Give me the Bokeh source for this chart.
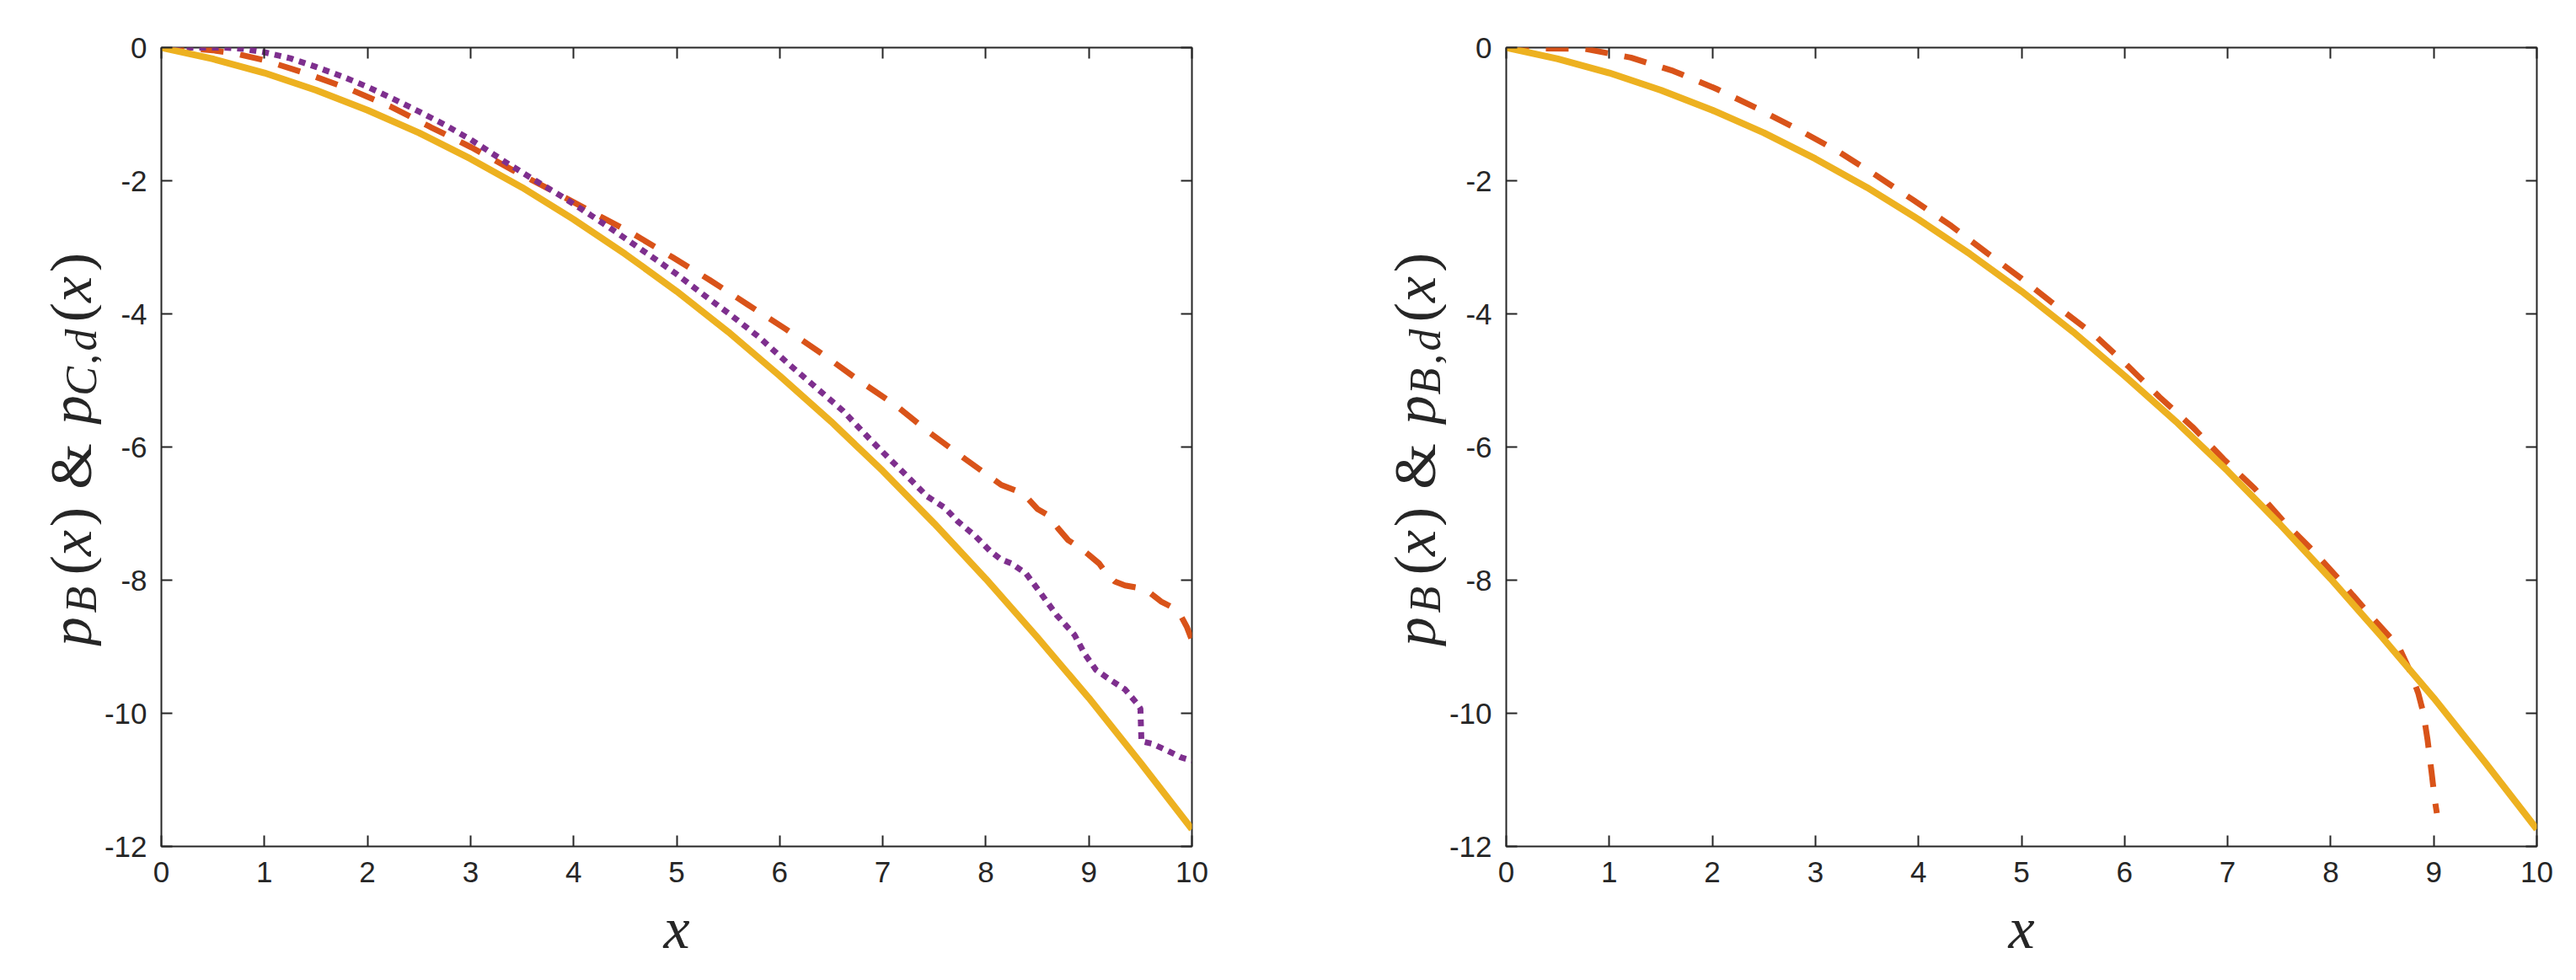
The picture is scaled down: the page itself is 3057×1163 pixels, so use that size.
import math
from bokeh.plotting import figure
from bokeh.models import Range1d, LinearAxis, FixedTicker, Label
from bokeh.layouts import row
from bokeh.embed import file_html
from bokeh.resources import INLINE

# ---------------- data ----------------
x_ticks = [0, 1, 2, 3, 4, 5, 6, 7, 8, 9, 10]
y_ticks = [-12, -10, -8, -6, -4, -2, 0]

# p_B(x): solid yellow (same in both panels)
pB_x = [0, 0.5, 1, 1.5, 2, 2.5, 3, 3.5, 4, 4.5, 5, 5.5, 6, 6.5, 7, 7.5, 8, 8.5, 9, 9.5, 10]
pB_y = [0, -0.17, -0.38, -0.64, -0.94, -1.28, -1.67, -2.10, -2.58, -3.10, -3.66, -4.27,
        -4.93, -5.62, -6.36, -7.15, -7.98, -8.86, -9.77, -10.74, -11.74]

# left panel, dashed red
pCd_red_x = [0, 0.25, 0.5, 0.75, 1.0, 1.41, 1.82, 2.23, 2.62, 3.01, 3.42, 3.78, 4.19, 4.57,
             4.96, 5.32, 5.69, 6.06, 6.42, 6.77, 7.13, 7.46, 7.80, 8.15, 8.30, 8.40, 8.50,
             8.60, 8.70, 8.80, 8.90, 9.00, 9.10, 9.17, 9.25, 9.35, 9.50, 9.60, 9.70, 9.80,
             9.88, 9.95, 10.0]
pCd_red_y = [0, -0.01, -0.04, -0.10, -0.19, -0.39, -0.62, -0.89, -1.20, -1.50, -1.85, -2.14,
             -2.48, -2.79, -3.15, -3.49, -3.86, -4.23, -4.61, -5.00, -5.38, -5.79, -6.18,
             -6.57, -6.66, -6.76, -6.93, -7.02, -7.22, -7.40, -7.50, -7.62, -7.75, -7.90,
             -8.02, -8.08, -8.12, -8.20, -8.32, -8.40, -8.50, -8.70, -8.90]

# left panel, dotted purple
pCd_pur_x = [0, 0.3, 0.6, 0.8, 1.0, 1.25, 1.5, 1.75, 2.0, 2.25, 2.5, 2.75, 3.0, 3.34, 3.61,
             3.89, 4.16, 4.43, 4.71, 4.98, 5.25, 5.52, 5.80, 6.07, 6.34, 6.61, 6.88, 7.08,
             7.27, 7.43, 7.60, 7.73, 7.90, 8.04, 8.14, 8.25, 8.39, 8.53, 8.69, 8.86, 8.96,
             9.07, 9.21, 9.35, 9.46, 9.50, 9.51, 9.62, 9.76, 9.89, 10.0]
pCd_pur_y = [0, 0, 0, -0.02, -0.07, -0.16, -0.29, -0.43, -0.59, -0.77, -0.96, -1.16, -1.38,
             -1.72, -1.98, -2.24, -2.51, -2.79, -3.09, -3.38, -3.70, -4.01, -4.35, -4.73,
             -5.09, -5.45, -5.89, -6.20, -6.49, -6.74, -6.91, -7.12, -7.34, -7.56, -7.68,
             -7.75, -7.90, -8.19, -8.53, -8.82, -9.11, -9.35, -9.50, -9.64, -9.84, -9.93,
             -10.42, -10.46, -10.56, -10.66, -10.71]

# right panel, dashed red
pBd_x = [0, 0.33, 0.77, 1.21, 1.62, 2.04, 2.43, 2.82, 3.21, 3.58, 3.95, 4.32, 4.67, 5.0, 5.32,
         5.71, 6.03, 6.34, 6.66, 6.96, 7.26, 7.54, 7.83, 8.10, 8.39, 8.66, 8.78, 8.85, 8.90,
         8.94, 8.98, 9.01, 9.03]
pBd_y = [0, -0.01, -0.02, -0.15, -0.35, -0.62, -0.91, -1.22, -1.55, -1.91, -2.29, -2.68,
         -3.09, -3.47, -3.86, -4.32, -4.78, -5.25, -5.70, -6.18, -6.62, -7.11, -7.56, -8.02,
         -8.54, -9.00, -9.40, -9.70, -10.0, -10.4, -10.9, -11.3, -11.5]

YELLOW = "#EDB120"
RED = "#D95319"
PURPLE = "#7E2F8E"
INK = "#262626"

# ---------------- layout constants ----------------
TOTAL_H = 1160
FRAME_W, FRAME_H = 1223, 948
FRAME_TOP = 56
BORDER_TOP = FRAME_TOP
BORDER_BOTTOM = TOTAL_H - BORDER_TOP - FRAME_H


def make_fig(border_left, border_right):
    p = figure(frame_width=FRAME_W, frame_height=FRAME_H,
               x_range=Range1d(0, 10), y_range=Range1d(-12, 0),
               min_border_left=border_left, min_border_right=border_right,
               min_border_top=BORDER_TOP, min_border_bottom=BORDER_BOTTOM,
               output_backend="svg", toolbar_location=None,
               background_fill_color="white", border_fill_color="white")
    p.xgrid.visible = False
    p.ygrid.visible = False
    p.outline_line_color = INK
    p.outline_line_width = 2
    p.outline_line_alpha = 1.0
    p.add_layout(LinearAxis(), "above")
    p.add_layout(LinearAxis(), "right")
    for ax in p.xaxis:
        ax.ticker = FixedTicker(ticks=x_ticks)
    for ax in p.yaxis:
        ax.ticker = FixedTicker(ticks=y_ticks)
    for ax in p.axis:
        ax.axis_line_color = None
        ax.major_tick_in = 13
        ax.major_tick_out = 0
        ax.major_tick_line_color = INK
        ax.major_tick_line_width = 2
        ax.minor_tick_line_color = None
        ax.major_label_text_font = "Liberation Sans"
        ax.major_label_text_font_size = "35px"
        ax.major_label_text_color = INK
    p.below[0].major_label_standoff = 18
    p.left[0].major_label_standoff = 17
    p.left[0].major_label_overrides = {t: str(t) for t in y_ticks}
    p.above[0].major_label_overrides = {t: "" for t in x_ticks}
    p.right[0].major_label_overrides = {t: "" for t in y_ticks}
    p.above[0].major_label_standoff = 0
    p.right[0].major_label_standoff = 0
    p.below[0].axis_label = "x"
    p.below[0].axis_label_text_font = "Liberation Serif"
    p.below[0].axis_label_text_font_style = "italic"
    p.below[0].axis_label_text_font_size = "70px"
    p.below[0].axis_label_text_color = INK
    p.below[0].axis_label_standoff = 13
    return p


def make_label_fig(width, page_left, sub_text, baseline_page_x):
    # in a row, this figure's frame is aligned with the panels' frames,
    # so its y range is given in page pixels of that frame
    f = figure(width=width, height=TOTAL_H, x_range=Range1d(0, width),
               y_range=Range1d(FRAME_TOP + FRAME_H, FRAME_TOP),
               min_border=0, x_axis_location=None, y_axis_location=None,
               output_backend="svg", toolbar_location=None,
               background_fill_color="white", border_fill_color="white")
    f.xgrid.visible = False
    f.ygrid.visible = False
    f.outline_line_color = None
    # pieces: text, style, size(px), page-y centre, subscript?
    pieces = [("p", "italic", 70, 749, False), ("B", "italic", 52, 711, True),
              ("(", "normal", 70, 670, False), ("x", "italic", 70, 644, False),
              (")", "normal", 70, 613, False), ("&", "normal", 70, 553, False),
              ("p", "italic", 70, 486, False), (sub_text, "italic", 52, 452, True),
              (",", "italic", 52, 426, True), ("d", "italic", 52, 403, True),
              ("(", "normal", 70, 370, False), ("x", "italic", 70, 343, False),
              (")", "normal", 70, 311, False)]
    for txt, style, size, py, sub in pieces:
        bx = baseline_page_x + (12 if sub else 0)
        f.add_layout(Label(x=bx - page_left, y=py, text=txt, angle=math.pi / 2,
                           text_font="Liberation Serif", text_font_style=style,
                           text_font_size=f"{size}px", text_color=INK,
                           text_align="center", text_baseline="alphabetic"))
    return f


# ---------------- left panel ----------------
LAB1_W = 120
L1, R1 = 71, 40
lab1 = make_label_fig(LAB1_W, 0, "C", 84)
p1 = make_fig(L1, R1)
p1.line(pCd_red_x, pCd_red_y, line_color=RED, line_width=7, line_dash="27 20", line_cap="butt")
p1.line(pCd_pur_x, pCd_pur_y, line_color=PURPLE, line_width=7, line_dash="8 7", line_cap="butt")
p1.line(pB_x, pB_y, line_color=YELLOW, line_width=8)

# ---------------- right panel ----------------
LAB2_W = 262
L2, R2 = 70, 40
lab2_left = LAB1_W + L1 + FRAME_W + R1
frame_left2 = lab2_left + LAB2_W + L2
lab2 = make_label_fig(LAB2_W, lab2_left, "B", frame_left2 - 107)
p2 = make_fig(L2, R2)
p2.line(pBd_x, pBd_y, line_color=RED, line_width=7, line_dash="27 20", line_cap="butt")
p2.line(pB_x, pB_y, line_color=YELLOW, line_width=8)

layout = row(lab1, p1, lab2, p2)
open("out.html", "w").write(file_html(layout, INLINE))
